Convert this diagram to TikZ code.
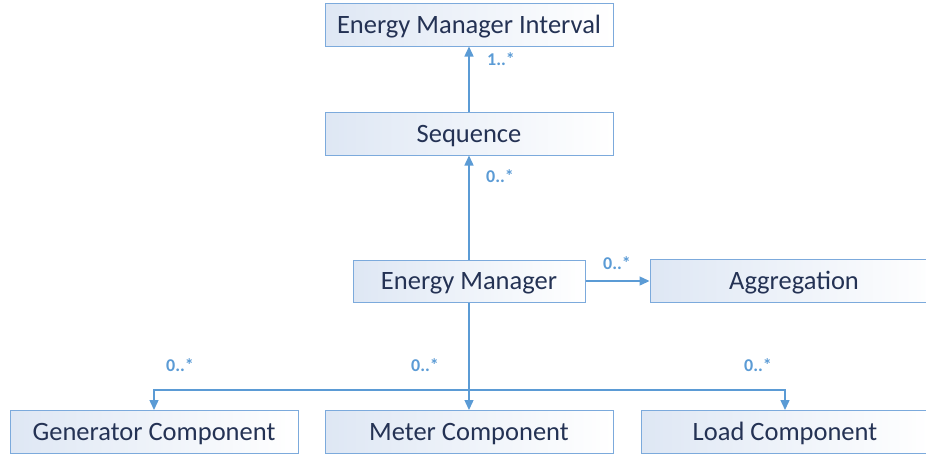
\documentclass[tikz,border=0pt]{standalone}
\usepackage{fontspec}
\setmainfont{Carlito}
\usepackage{xcolor}
\usetikzlibrary{arrows.meta}

\definecolor{boxline}{RGB}{124,170,220}
\definecolor{boxshade}{RGB}{222,231,244}
\definecolor{arrowblue}{RGB}{91,155,213}
\definecolor{navytext}{RGB}{36,50,84}

\tikzset{
  classbox/.style={draw=boxline,line width=1pt,left color=boxshade,right color=white,
    text=navytext,font=\fontsize{26.5}{30}\selectfont,
    text height=20pt,text depth=3pt,
    minimum width=288pt,minimum height=43pt,inner sep=0pt},
  mult/.style={text=arrowblue,font=\fontsize{18}{21}\selectfont\bfseries,inner sep=0pt},
  link/.style={draw=arrowblue,line width=1.4pt}
}

\begin{document}
\begin{tikzpicture}[x=1pt,y=-1pt,>={Triangle[length=10pt,width=9pt]}]
\useasboundingbox (0,0) rectangle (926,453);
\clip (0,0) rectangle (926,453);
%classes
\node[classbox] (interval) at (469,24.5) {Energy Manager Interval};
\node[classbox] (sequence) at (469,133.5) {Sequence};
\node[classbox,minimum width=232pt,minimum height=42pt] (manager) at (469,281) {Energy Manager};
\node[classbox] (aggregation) at (794,281) {Aggregation};
\node[classbox] (generator) at (154,432) {Generator Component};
\node[classbox] (meter) at (469,432) {Meter Component};
\node[classbox] (load) at (785,432) {Load Component};
%associations
\draw[link,->] (sequence.north) -- (interval.south);
\draw[link,->] (manager.north) -- (sequence.south);
\draw[link,->] (manager.east) -- (aggregation.west);
\coordinate (split) at (469,390);
\draw[link,->] (manager.south) -- (meter.north);
\draw[link,->] (split) -| (generator.north);
\draw[link,->] (split) -| (load.north);
%multiplicities
\node[mult] (m1) at (501,59) {1..*};
\node[mult] (m2) at (500,176) {0..*};
\node[mult] (m3) at (617,263) {0..*};
\node[mult] (m4) at (180,365) {0..*};
\node[mult] (m5) at (425,365) {0..*};
\node[mult] (m6) at (758,365) {0..*};
\end{tikzpicture}
\end{document}
